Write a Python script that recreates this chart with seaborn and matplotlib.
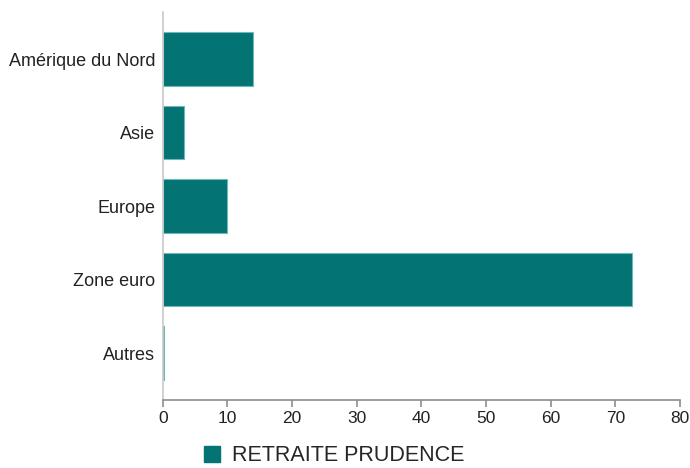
import pandas as pd
import seaborn as sns
import matplotlib.pyplot as plt
from matplotlib.patches import Patch

regions = ["Amérique du Nord", "Asie", "Europe", "Zone euro", "Autres"]
values = [13.9, 3.2, 10.0, 72.6, 0.2]
series_name = "RETRAITE PRUDENCE"
x_ticks = [0, 10, 20, 30, 40, 50, 60, 70, 80]

data = pd.DataFrame({"region": regions, "value": values})

sns.set_style("white")
plt.rcParams['font.family'] = ['Liberation Sans', 'DejaVu Sans']

bar_color = "#037373"
edge_color = "#6fb8b8"

fig = plt.figure(figsize=(6.9, 4.68), dpi=100)
ax = fig.add_axes([0.236, 0.145, 0.7495, 0.829])

sns.barplot(data=data, x="value", y="region", orient="h", color=bar_color,
            saturation=1, width=0.73, edgecolor=edge_color, linewidth=0.8, ax=ax)

ax.set_xlim(0, 80)
ax.set_ylim(4.64, -0.64)
ax.set_xticks(x_ticks)
ax.set_xlabel("")
ax.set_ylabel("")

for side in ["top", "right"]:
    ax.spines[side].set_visible(False)
ax.spines["left"].set_color("#c8c8c8")
ax.spines["left"].set_linewidth(1.2)
ax.spines["bottom"].set_color("#8c8c8c")
ax.spines["bottom"].set_linewidth(1.2)

ax.tick_params(axis="x", bottom=True, length=5, width=1.2, color="#8c8c8c",
               labelsize=12.5, labelcolor="#222222", pad=3)
ax.tick_params(axis="y", left=False, labelsize=13, labelcolor="#222222", pad=2)

handle = Patch(facecolor=bar_color, edgecolor=bar_color)
fig.legend([handle], [series_name], loc="lower center", bbox_to_anchor=(0.484, -0.038),
           frameon=False, fontsize=15.5, handlelength=0.75, handleheight=0.75,
           handletextpad=0.55)

fig.savefig("out.png", dpi=100)
